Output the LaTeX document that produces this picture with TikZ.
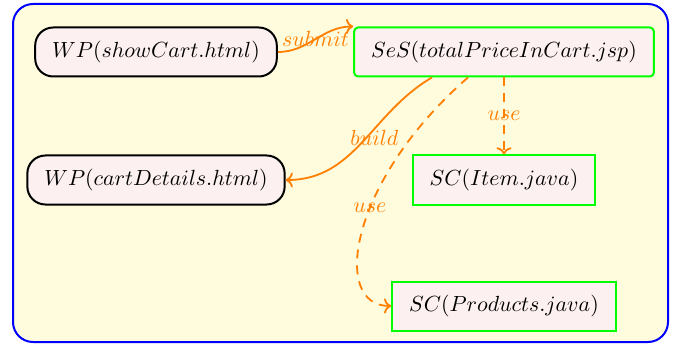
\documentclass[tikz,border=0pt]{standalone}
\usetikzlibrary{arrows.meta}
\definecolor{bgyellow}{HTML}{FFFBDD}
\definecolor{nodepink}{HTML}{FDF0F0}
\definecolor{edgeorange}{HTML}{FF8000}
\definecolor{boxgreen}{HTML}{00FF00}
\begin{document}
\begin{tikzpicture}[x=0.5pt,y=-0.5pt,
  every node/.style={font=\fontsize{11.3}{13}\selectfont},
  wpbox/.style={draw=black,line width=1pt,fill=nodepink,rounded corners=9pt,minimum height=24.5pt,inner xsep=8.5pt},
  sesbox/.style={draw=boxgreen,line width=1pt,fill=nodepink,rounded corners=2pt,minimum height=24.5pt,inner xsep=8.5pt},
  scbox/.style={draw=boxgreen,line width=1pt,fill=nodepink,minimum height=24.5pt,inner xsep=8.5pt},
  flow/.style={draw=edgeorange,line width=0.9pt,->},
  uses/.style={flow,dash pattern=on 4.5pt off 3.5pt},
  lbl/.style={text=edgeorange,inner sep=0pt}
]
\useasboundingbox (0,0) rectangle (683,347);
\draw[blue,line width=1pt,fill=bgyellow,rounded corners=10pt] (13,4) rectangle (668,342);
\node[wpbox] (show) at (156,52) {$WP(showCart.html)$};
\node[sesbox] (ses) at (504,52) {$SeS(totalPriceInCart.jsp)$};
\node[wpbox] (details) at (156,180) {$WP(cartDetails.html)$};
\node[scbox] (item) at (504,180) {$SC(Item.java)$};
\node[scbox] (prod) at (504,306) {$SC(Products.java)$};
\coordinate (bstart) at ([xshift=-36pt]ses.south);
\coordinate (ustart) at ([xshift=-18pt]ses.south);
\draw[flow] (show.east) to[out=0,in=180] node[lbl,pos=0.5] {$submit$} (ses.north west);
\draw[flow] (bstart) to[out=210,in=0] node[lbl,pos=0.5,xshift=6pt,yshift=2pt] {$build$} (details.east);
\draw[uses] (ses.south) -- node[lbl] {$use$} (item.north);
\draw[uses] (ustart) .. controls (350,180) and (330,306) .. node[lbl,pos=0.42] {$use$} (prod.west);
\end{tikzpicture}
\end{document}
